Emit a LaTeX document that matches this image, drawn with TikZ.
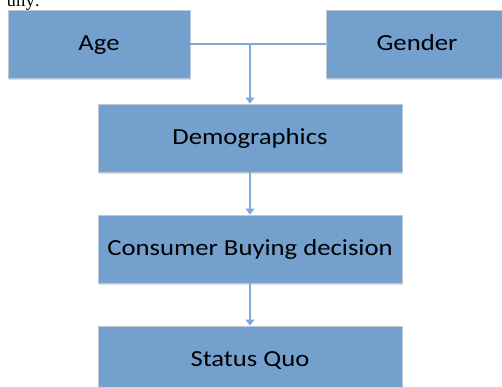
\documentclass[tikz,border=0pt]{standalone}
\usepackage{fontspec}
\setmainfont[FakeStretch=1.16]{Carlito}
\newfontfamily\bodyserif{Liberation Serif}
\usetikzlibrary{arrows.meta,shadows}
\definecolor{boxfill}{RGB}{116,160,206}
\definecolor{boxline}{RGB}{190,200,214}
\definecolor{linkblue}{RGB}{125,168,216}
\tikzset{
  stage/.style={rectangle, draw=boxline, line width=0.9pt, fill=boxfill,
    minimum width=182pt, minimum height=68pt, inner sep=0pt,
    text height=13.5pt, text depth=0pt,
    font=\fontsize{23}{26}\selectfont, text=black,
    drop shadow={shadow xshift=0.6pt, shadow yshift=-1.6pt, opacity=0.22, fill=black!60}},
  widestage/.style={stage, minimum width=304pt},
  link/.style={draw=linkblue, line width=1.4pt},
  flow/.style={link, -{Triangle[width=9pt,length=6pt]}}
}
\begin{document}
\begin{tikzpicture}[x=1pt,y=-1pt]
  \useasboundingbox (0,0) rectangle (502,387);
  \clip (0,0) rectangle (502,387);
  % tail of the preceding sentence
  \node[anchor=base east, inner sep=0pt, font=\bodyserif\fontsize{18}{20}\selectfont] (lead) at (40,6.5) {ully:};
  % factor boxes
  \node[stage] (age) at (99,44) {Age};
  \node[stage] (gender) at (417,44) {Gender};
  \node[widestage] (demo) at (250,138) {Demographics};
  \node[widestage] (cbd) at (250,249) {Consumer Buying decision};
  \node[widestage] (sq) at (250,360) {Status Quo};
  % connectors
  \coordinate (join) at (250,44);
  \draw[link] (age.east) -- (gender.west);
  \draw[flow] (join) -- (demo.north);
  \draw[flow] (demo.south) -- (cbd.north);
  \draw[flow] (cbd.south) -- (sq.north);
\end{tikzpicture}
\end{document}
